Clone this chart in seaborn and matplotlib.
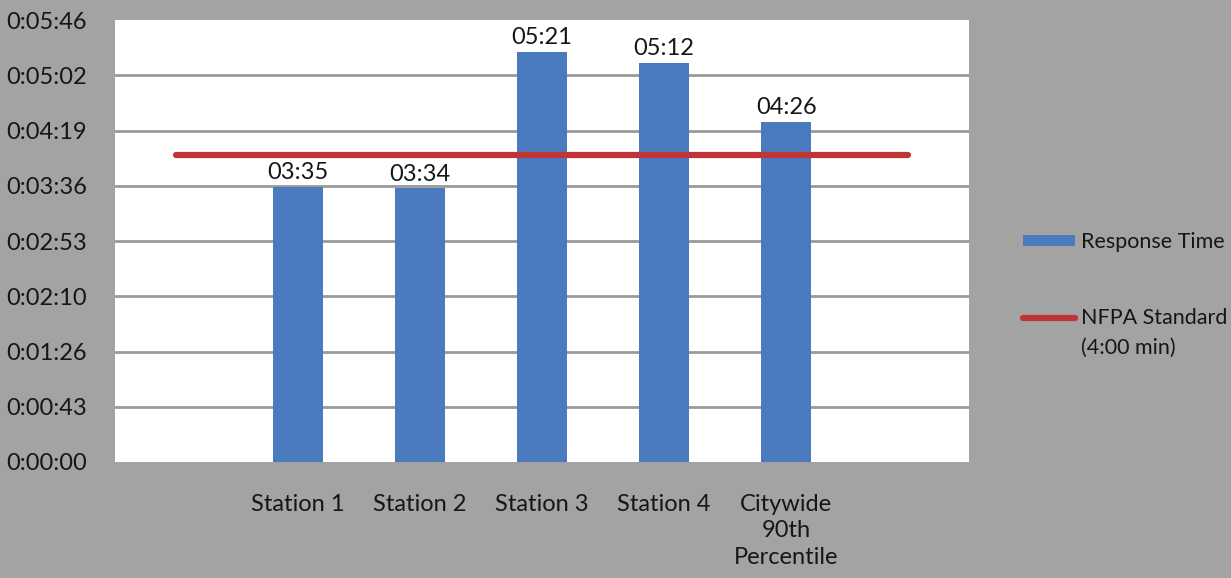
import matplotlib
matplotlib.use("Agg")
import matplotlib.pyplot as plt
from matplotlib.patches import Patch
from matplotlib.lines import Line2D
import seaborn as sns
import pandas as pd

# Response times in seconds
stations = ["Station 1", "Station 2", "Station 3", "Station 4", "Citywide\n90th\nPercentile"]
response_seconds = [215, 214, 321, 312, 266]
nfpa_standard = 240  # 4:00 min

# Y axis: 0.0005-day steps shown as h:mm:ss
tick_seconds = [0, 43.2, 86.4, 129.6, 172.8, 216.0, 259.2, 302.4, 345.6]
tick_labels = ["0:00:00", "0:00:43", "0:01:26", "0:02:10", "0:02:53",
               "0:03:36", "0:04:19", "0:05:02", "0:05:46"]

order = [""] + stations + [" "]
df = pd.DataFrame({"station": stations, "seconds": response_seconds})

bg = "#a3a3a3"
bar_color = "#4a7bbf"
line_color = "#bf3535"
text_color = "#161616"

sns.set_theme(style="white")
plt.rcParams["font.family"] = ["Lato", "DejaVu Sans"]

fig = plt.figure(figsize=(12.31, 5.78), dpi=100, facecolor=bg)
ax = fig.add_axes([0.0934, 0.2007, 0.694, 0.7643])
ax.set_facecolor("white")

sns.barplot(data=df, x="station", y="seconds", order=order, color=bar_color,
            width=0.41, saturation=1, linewidth=0, ax=ax, zorder=3)

sns.lineplot(x=[0, 6], y=[nfpa_standard, nfpa_standard], color=line_color,
             linewidth=4.5, ax=ax, zorder=4)

for i, v in enumerate(response_seconds):
    ax.text(i + 1, v + 3, f"{v // 60:02d}:{v % 60:02d}", ha="center", va="bottom",
            fontsize=17, color=text_color, zorder=5)

ax.set_ylim(0, 345.6)
ax.set_xlim(-0.5, 6.5)
ax.set_yticks(tick_seconds)
ax.set_yticklabels(tick_labels, fontsize=17, color=text_color)
ax.tick_params(axis="y", length=0, pad=20)
ax.tick_params(axis="x", length=0, pad=23, labelsize=17, labelcolor=text_color)
for lbl in ax.get_xticklabels():
    lbl.set_linespacing(1.32)
    lbl.set_verticalalignment("top")
ax.set_xlabel("")
ax.set_ylabel("")
for y in tick_seconds[1:-1]:
    ax.axhline(y, color="#9a9a9a", linewidth=2, zorder=1)
for s in ax.spines.values():
    s.set_visible(False)

handles = [Patch(facecolor=bar_color, edgecolor="none"),
           Line2D([0], [0], color=line_color, linewidth=4.5)]
labels = ["Response Time", "NFPA Standard"]
leg = fig.legend(handles, labels, loc="upper left", bbox_to_anchor=(0.831, 0.598),
                 frameon=False, fontsize=15.5, handlelength=2.4, handleheight=0.45,
                 labelspacing=2.6, handletextpad=0.3, borderpad=0, borderaxespad=0)
for t in leg.get_texts():
    t.set_color(text_color)
fig.canvas.draw()
nfpa_text = leg.get_texts()[1]
bb = nfpa_text.get_window_extent()
fig.text(bb.x0 / fig.bbox.width, (bb.y0 - 10) / fig.bbox.height, "(4:00 min)",
         ha="left", va="top", fontsize=15.5, color=text_color)

fig.savefig("out.png", dpi=100, facecolor=bg)
